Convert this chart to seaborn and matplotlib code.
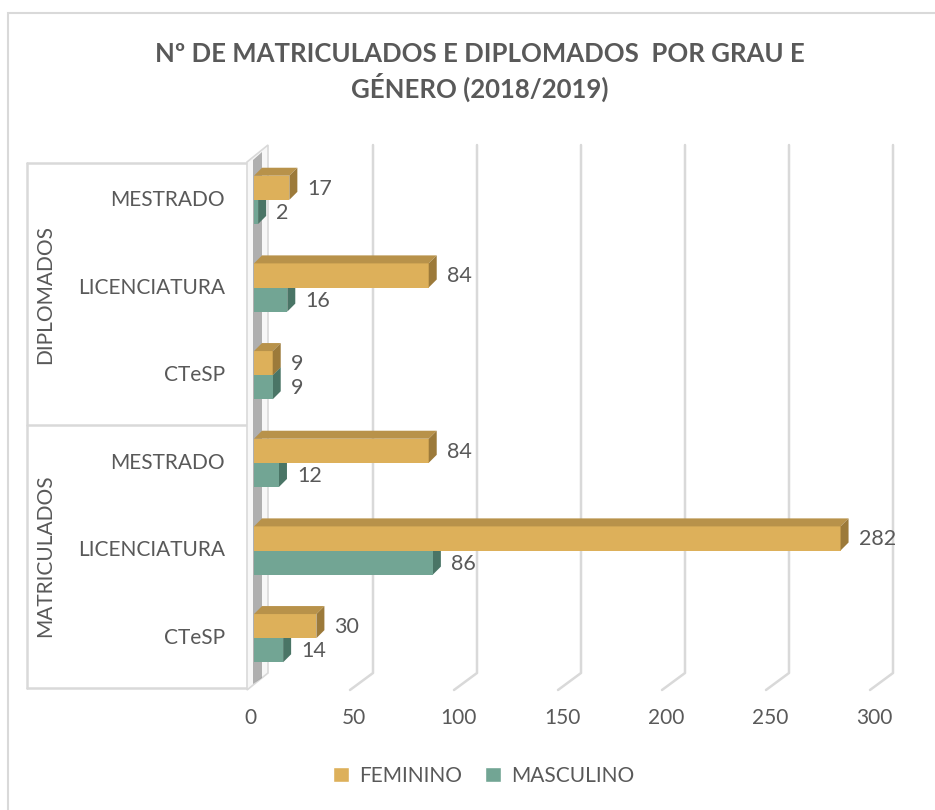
import numpy as np
import pandas as pd
import seaborn as sns
import matplotlib.pyplot as plt
from matplotlib.patches import Polygon, Rectangle
from matplotlib.lines import Line2D
from matplotlib.transforms import IdentityTransform

# data
grupos = ["DIPLOMADOS", "DIPLOMADOS", "DIPLOMADOS", "MATRICULADOS", "MATRICULADOS", "MATRICULADOS"]
graus = ["MESTRADO", "LICENCIATURA", "CTeSP", "MESTRADO", "LICENCIATURA", "CTeSP"]
feminino = [17, 84, 9, 84, 282, 30]
masculino = [2, 16, 9, 12, 86, 14]
generos = ["FEMININO", "MASCULINO"]
x_ticks = [0, 50, 100, 150, 200, 250, 300]

cores = {"FEMININO": "#DDB05A", "MASCULINO": "#72A594"}
topo = {"FEMININO": "#B8924A", "MASCULINO": "#5A8878"}
lado = {"FEMININO": "#9C7A3A", "MASCULINO": "#4A7566"}
cinza = "#595959"

chave = [g + "|" + c for g, c in zip(grupos, graus)]
df = pd.DataFrame({
    "cat": chave * 2,
    "valor": feminino + masculino,
    "genero": [generos[0]] * 6 + [generos[1]] * 6,
})

sns.set_style("white")
plt.rcParams["font.family"] = ["Lato", "DejaVu Sans"]

W, H = 935, 810
fig = plt.figure(figsize=(W / 100, H / 100), dpi=100)

def fx(px):
    return px / W

def fy(py):
    return 1 - py / H

# axes: x 0..300 -> px 254..878, rows -0.5..5.5 -> px 156..682
ax = fig.add_axes([fx(254), fy(682), fx(878) - fx(254), fy(156) - fy(682)])
ax.set_facecolor("none")
ax.set_zorder(1)

sns.barplot(data=df, x="valor", y="cat", hue="genero", order=chave,
            hue_order=generos, palette=cores, width=0.55, orient="h",
            saturation=1, legend=False, ax=ax, zorder=3, linewidth=0)

ax.set_xlim(0, 300)
ax.set_ylim(5.5, -0.5)
for s in ax.spines.values():
    s.set_visible(False)
ax.set_xticks([])
ax.set_yticks([])
ax.set_xlabel("")
ax.set_ylabel("")

fig.canvas.draw()
tr = ax.transData
dx, dy = 8, 8  # depth in pixels

# background: border, left wall, gridlines
fig.patches.append(Rectangle((fx(8), fy(815)), fx(940) - fx(8), fy(13) - fy(815),
                             transform=fig.transFigure, fill=False,
                             edgecolor="#D9D9D9", lw=1.5, zorder=0))

for v in x_ticks[1:]:
    xf = tr.transform((v, 0))[0]
    xb = xf + 15
    fig.lines.append(Line2D([fx(xb), fx(xb), fx(xb - 23)], [fy(145), fy(673), fy(690)],
                            transform=fig.transFigure, color="#D9D9D9", lw=1.8, zorder=0))

# left wall
fig.patches.append(Polygon([(fx(247), fy(690)), (fx(247), fy(162)), (fx(268), fy(145)),
                            (fx(268), fy(673))], closed=True, transform=fig.transFigure,
                           facecolor="#F7F7F7", edgecolor="#D9D9D9", lw=1.2, zorder=0))
fig.patches.append(Polygon([(fx(253), fy(684)), (fx(253), fy(160)), (fx(262), fy(152)),
                            (fx(262), fy(678))], closed=True, transform=fig.transFigure,
                           facecolor="#7F7F7F", edgecolor="none", alpha=0.6, zorder=0))

# group lines
for yy in [163, 425, 688]:
    fig.lines.append(Line2D([fx(27), fx(247)], [fy(yy), fy(yy)], transform=fig.transFigure,
                            color="#D9D9D9", lw=1.8, zorder=0))
fig.lines.append(Line2D([fx(27), fx(27)], [fy(163), fy(688)], transform=fig.transFigure,
                        color="#D9D9D9", lw=1.8, zorder=0))

# 3D faces for bars + labels (masculino faces sit behind the feminino bars)
face_z = {"FEMININO": 3.5, "MASCULINO": 2.5}
for gi, cont in enumerate(ax.containers):
    g = generos[gi]
    for bar, val in zip(cont.patches, cont.datavalues):
        bx, by = bar.get_x(), bar.get_y()
        bw, bh = bar.get_width(), bar.get_height()
        (pl, pt) = tr.transform((bx, by))
        (pr, pb) = tr.transform((bx + bw, by + bh))
        top_face = [(pl, pt), (pr, pt), (pr + dx, pt + dy), (pl + dx, pt + dy)]
        side_face = [(pr, pt), (pr, pb), (pr + dx, pb + dy), (pr + dx, pt + dy)]
        for pts, c in [(top_face, topo[g]), (side_face, lado[g])]:
            ax.add_patch(Polygon(pts, closed=True, transform=IdentityTransform(),
                                 facecolor=c, edgecolor="none", zorder=face_z[g]))
        ax.annotate(f"{int(val)}", xy=(bx + bw, by + bh / 2), xytext=(18, -1),
                    textcoords="offset pixels", va="center", ha="left",
                    fontsize=15.5, color=cinza)

# tick labels
for v in x_ticks:
    ax.annotate(str(v), xy=(v, 5.5), xytext=(-4, -36), textcoords="offset pixels",
                ha="center", va="center", fontsize=15, color=cinza, annotation_clip=False)

for i, gr in enumerate(graus):
    ax.annotate(gr, xy=(0, i), xytext=(-29, 0), textcoords="offset pixels",
                ha="right", va="center", fontsize=15, color=cinza, annotation_clip=False)

fig.text(fx(45), fy(294), "DIPLOMADOS", rotation=90, ha="center", va="center",
         fontsize=15, color=cinza)
fig.text(fx(45), fy(556), "MATRICULADOS", rotation=90, ha="center", va="center",
         fontsize=15, color=cinza)

fig.text(fx(480), fy(72), "Nº DE MATRICULADOS E DIPLOMADOS  POR GRAU E\nGÉNERO (2018/2019)",
         ha="center", va="center", fontsize=18.5, fontweight="bold", color=cinza,
         linespacing=1.3)

handles = [Rectangle((0, 0), 1, 1, facecolor=cores[g]) for g in generos]
fig.legend(handles, generos, loc="center", bbox_to_anchor=(fx(484), fy(776)), ncol=2,
           frameon=False, fontsize=15, labelcolor=cinza, handlelength=0.75,
           handleheight=0.75, columnspacing=1.1, handletextpad=0.5)

fig.savefig("out.png", dpi=100)
